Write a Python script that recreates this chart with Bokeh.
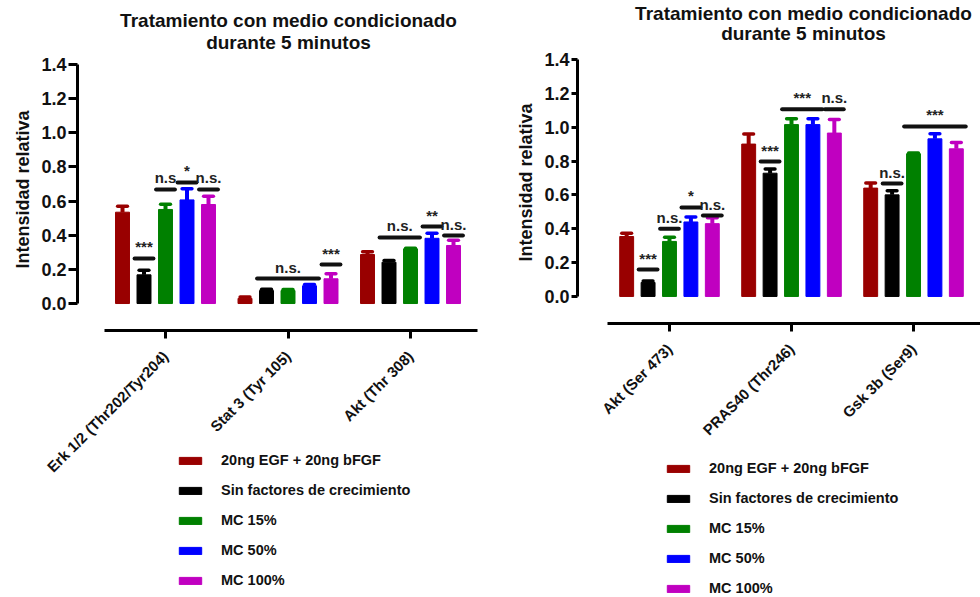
import math
from bokeh.plotting import figure
from bokeh.models import Range1d, FixedTicker, Legend, LegendItem, ColumnDataSource, Label
from bokeh.layouts import row
from bokeh.embed import file_html
from bokeh.resources import INLINE
from bokeh.core.properties import value

# ---------------- data ----------------
series_names = ["20ng EGF + 20ng bFGF", "Sin factores de crecimiento", "MC 15%", "MC 50%", "MC 100%"]
series_colors = ["#990000", "#000000", "#008000", "#0000ff", "#c000c0"]
title_lines = ["Tratamiento con medio condicionado", "durante 5 minutos"]
y_label = "Intensidad relativa"
y_ticks = [0.0, 0.2, 0.4, 0.6, 0.8, 1.0, 1.2, 1.4]

# left panel
left_categories = ["Erk 1/2 (Thr202/Tyr204)", "Stat 3 (Tyr 105)", "Akt (Thr 308)"]
left_egf = [0.535, 0.030, 0.287]
left_sin = [0.168, 0.076, 0.242]
left_mc15 = [0.551, 0.076, 0.320]
left_mc50 = [0.607, 0.104, 0.382]
left_mc100 = [0.580, 0.145, 0.340]
left_egf_err = [0.035, 0.008, 0.016]
left_sin_err = [0.027, 0.008, 0.010]
left_mc15_err = [0.030, 0.006, 0.004]
left_mc50_err = [0.065, 0.008, 0.030]
left_mc100_err = [0.048, 0.030, 0.030]
# significance: group, first series, last series, y, text
left_sig_group = [0, 0, 0, 0, 1, 1, 2, 2, 2]
left_sig_first = [1, 2, 3, 4, 1, 4, 1, 3, 4]
left_sig_last = [1, 2, 3, 4, 3, 4, 2, 3, 4]
left_sig_y = [0.264, 0.668, 0.709, 0.668, 0.146, 0.228, 0.387, 0.451, 0.398]
left_sig_text = ["***", "n.s", "*", "n.s.", "n.s.", "***", "n.s.", "**", "n.s."]

# right panel
right_categories = ["Akt (Ser 473)", "PRAS40 (Thr246)", "Gsk 3b (Ser9)"]
right_egf = [0.354, 0.900, 0.640]
right_sin = [0.083, 0.728, 0.600]
right_mc15 = [0.325, 1.015, 0.843]
right_mc50 = [0.440, 1.015, 0.931]
right_mc100 = [0.430, 0.965, 0.872]
right_egf_err = [0.020, 0.060, 0.030]
right_sin_err = [0.008, 0.025, 0.025]
right_mc15_err = [0.025, 0.035, 0.004]
right_mc50_err = [0.030, 0.035, 0.030]
right_mc100_err = [0.035, 0.080, 0.037]
right_sig_group = [0, 0, 0, 0, 1, 1, 1, 2, 2]
right_sig_first = [1, 2, 3, 4, 1, 2, 4, 1, 2]
right_sig_last = [1, 2, 3, 4, 1, 3, 4, 1, 4]
right_sig_y = [0.159, 0.400, 0.526, 0.478, 0.797, 1.105, 1.105, 0.667, 1.004]
right_sig_text = ["***", "n.s.", "*", "n.s.", "***", "***", "n.s.", "n.s.", "***"]

# ---------------- style ----------------
FONT = "Liberation Sans"
BAR_STEP = 0.1755
BAR_W = 0.114
CAP_HALF = 0.04
SIG_EXT = 0.02
W, H = 490, 597


def make_panel(categories, values, errors, sig, x_rng, x_axis_bounds, y_rng, y_axis_x, x_axis_y,
               title_pos, ylab_pos, tick_out_y, legend_loc):
    p = figure(width=W, height=H, output_backend="svg", toolbar_location=None,
               x_range=Range1d(*x_rng), y_range=Range1d(*y_rng),
               min_border_left=0, min_border_right=0, min_border_top=0, min_border_bottom=0,
               background_fill_color="white", border_fill_color="white")
    p.outline_line_color = None
    p.grid.visible = False

    # two-line title, centred, in screen units relative to the frame
    for txt, (tx, ty) in zip(title_lines, title_pos):
        p.add_layout(Label(x=tx, y=ty, x_units="screen", y_units="screen", text=txt,
                           text_align="center", text_baseline="middle", text_font=FONT,
                           text_font_style="bold", text_font_size="19px", text_color="#111111"))
    # y-axis title
    p.add_layout(Label(x=ylab_pos[0], y=ylab_pos[1], x_units="screen", y_units="screen",
                       text=y_label, angle=math.pi / 2, text_align="center", text_baseline="middle",
                       text_font=FONT, text_font_style="bold", text_font_size="18px",
                       text_color="#111111"))

    renderers = []
    for s in range(5):
        xs = [g + (s - 2) * BAR_STEP for g in range(len(categories))]
        tops = values[s]
        errs = errors[s]
        ups = [t + e for t, e in zip(tops, errs)]
        src = ColumnDataSource(dict(x=xs, top=tops, up=ups,
                                    cl=[x - CAP_HALF for x in xs], cr=[x + CAP_HALF for x in xs]))
        r = p.vbar(x="x", top="top", bottom=0, width=BAR_W, source=src,
                   fill_color=series_colors[s], line_color=series_colors[s], line_width=1)
        p.segment(x0="x", y0="top", x1="x", y1="up", source=src,
                  line_color=series_colors[s], line_width=4)
        p.segment(x0="cl", y0="up", x1="cr", y1="up", source=src,
                  line_color=series_colors[s], line_width=3.5, line_cap="round")
        renderers.append(r)

    g_, f_, l_, y_, t_ = sig
    x0 = [g + (f - 2) * BAR_STEP - BAR_W / 2 - SIG_EXT for g, f in zip(g_, f_)]
    x1 = [g + (l - 2) * BAR_STEP + BAR_W / 2 + SIG_EXT for g, l in zip(g_, l_)]
    ssrc = ColumnDataSource(dict(x0=x0, x1=x1, y=y_, xm=[(a + b) / 2 for a, b in zip(x0, x1)], t=t_))
    p.segment(x0="x0", y0="y", x1="x1", y1="y", source=ssrc, line_color="#111111",
              line_width=4, line_cap="round")
    p.text(x="xm", y="y", text="t", source=ssrc, text_align="center", text_baseline="bottom",
           y_offset=-3, text_font=value(FONT), text_font_style="bold", text_font_size="15px",
           text_color="#222222")

    # y axis, fixed at the left of the bars
    ya = p.yaxis[0]
    ya.fixed_location = y_axis_x
    ya.ticker = FixedTicker(ticks=y_ticks)
    ya.bounds = (0, 1.4)
    ya.major_label_text_font = FONT
    ya.major_label_text_font_style = "bold"
    ya.major_label_text_font_size = "18px"
    ya.major_label_text_color = "#111111"
    ya.major_label_standoff = 2
    ya.axis_line_width = 3
    ya.major_tick_line_width = 3
    ya.major_tick_out = tick_out_y
    ya.major_tick_in = 0
    ya.minor_tick_line_color = None
    ya.major_label_overrides = {t: f"{t:.1f}" for t in y_ticks}

    # x axis, detached below the bars
    xa = p.xaxis[0]
    xa.fixed_location = x_axis_y
    xa.ticker = FixedTicker(ticks=list(range(len(categories))))
    xa.major_label_overrides = {i: c for i, c in enumerate(categories)}
    xa.bounds = x_axis_bounds
    xa.major_label_orientation = math.pi / 4
    xa.major_label_text_font = FONT
    xa.major_label_text_font_style = "bold"
    xa.major_label_text_font_size = "15px"
    xa.major_label_text_color = "#111111"
    xa.major_label_standoff = 15
    xa.axis_line_width = 3
    xa.major_tick_line_width = 3
    xa.major_tick_out = 8
    xa.major_tick_in = 0
    xa.minor_tick_line_color = None

    legend = Legend(items=[LegendItem(label=n, renderers=[r]) for n, r in zip(series_names, renderers)],
                    location=legend_loc, orientation="vertical", glyph_width=28, glyph_height=9,
                    label_height=20, spacing=10, padding=0, margin=0,
                    border_line_color=None, background_fill_alpha=0,
                    label_text_font=FONT, label_text_font_style="bold",
                    label_text_font_size="14.5px", label_text_color="#111111", label_standoff=17)
    p.add_layout(legend, "center")
    return p


left_values = [left_egf, left_sin, left_mc15, left_mc50, left_mc100]
left_errors = [left_egf_err, left_sin_err, left_mc15_err, left_mc50_err, left_mc100_err]
right_values = [right_egf, right_sin, right_mc15, right_mc50, right_mc100]
right_errors = [right_egf_err, right_sin_err, right_mc15_err, right_mc50_err, right_mc100_err]

p1 = make_panel(left_categories, left_values, left_errors,
                (left_sig_group, left_sig_first, left_sig_last, left_sig_y, left_sig_text),
                (-1.347, 2.653), (-0.498, 2.547), (-1.722, 1.775), -0.718, -0.158,
                [(288, 577), (288, 555)], (22, 408), 9, (176, 7))
p2 = make_panel(right_categories, right_values, right_errors,
                (right_sig_group, right_sig_first, right_sig_last, right_sig_y, right_sig_text),
                (-1.467, 2.549), (-0.508, 2.549), (-1.778, 1.748), -0.754, -0.159,
                [(313, 584), (313, 564)], (35, 415), 6, (174, -1))

layout = row(p1, p2)
open("out.html", "w").write(file_html(layout, INLINE))
